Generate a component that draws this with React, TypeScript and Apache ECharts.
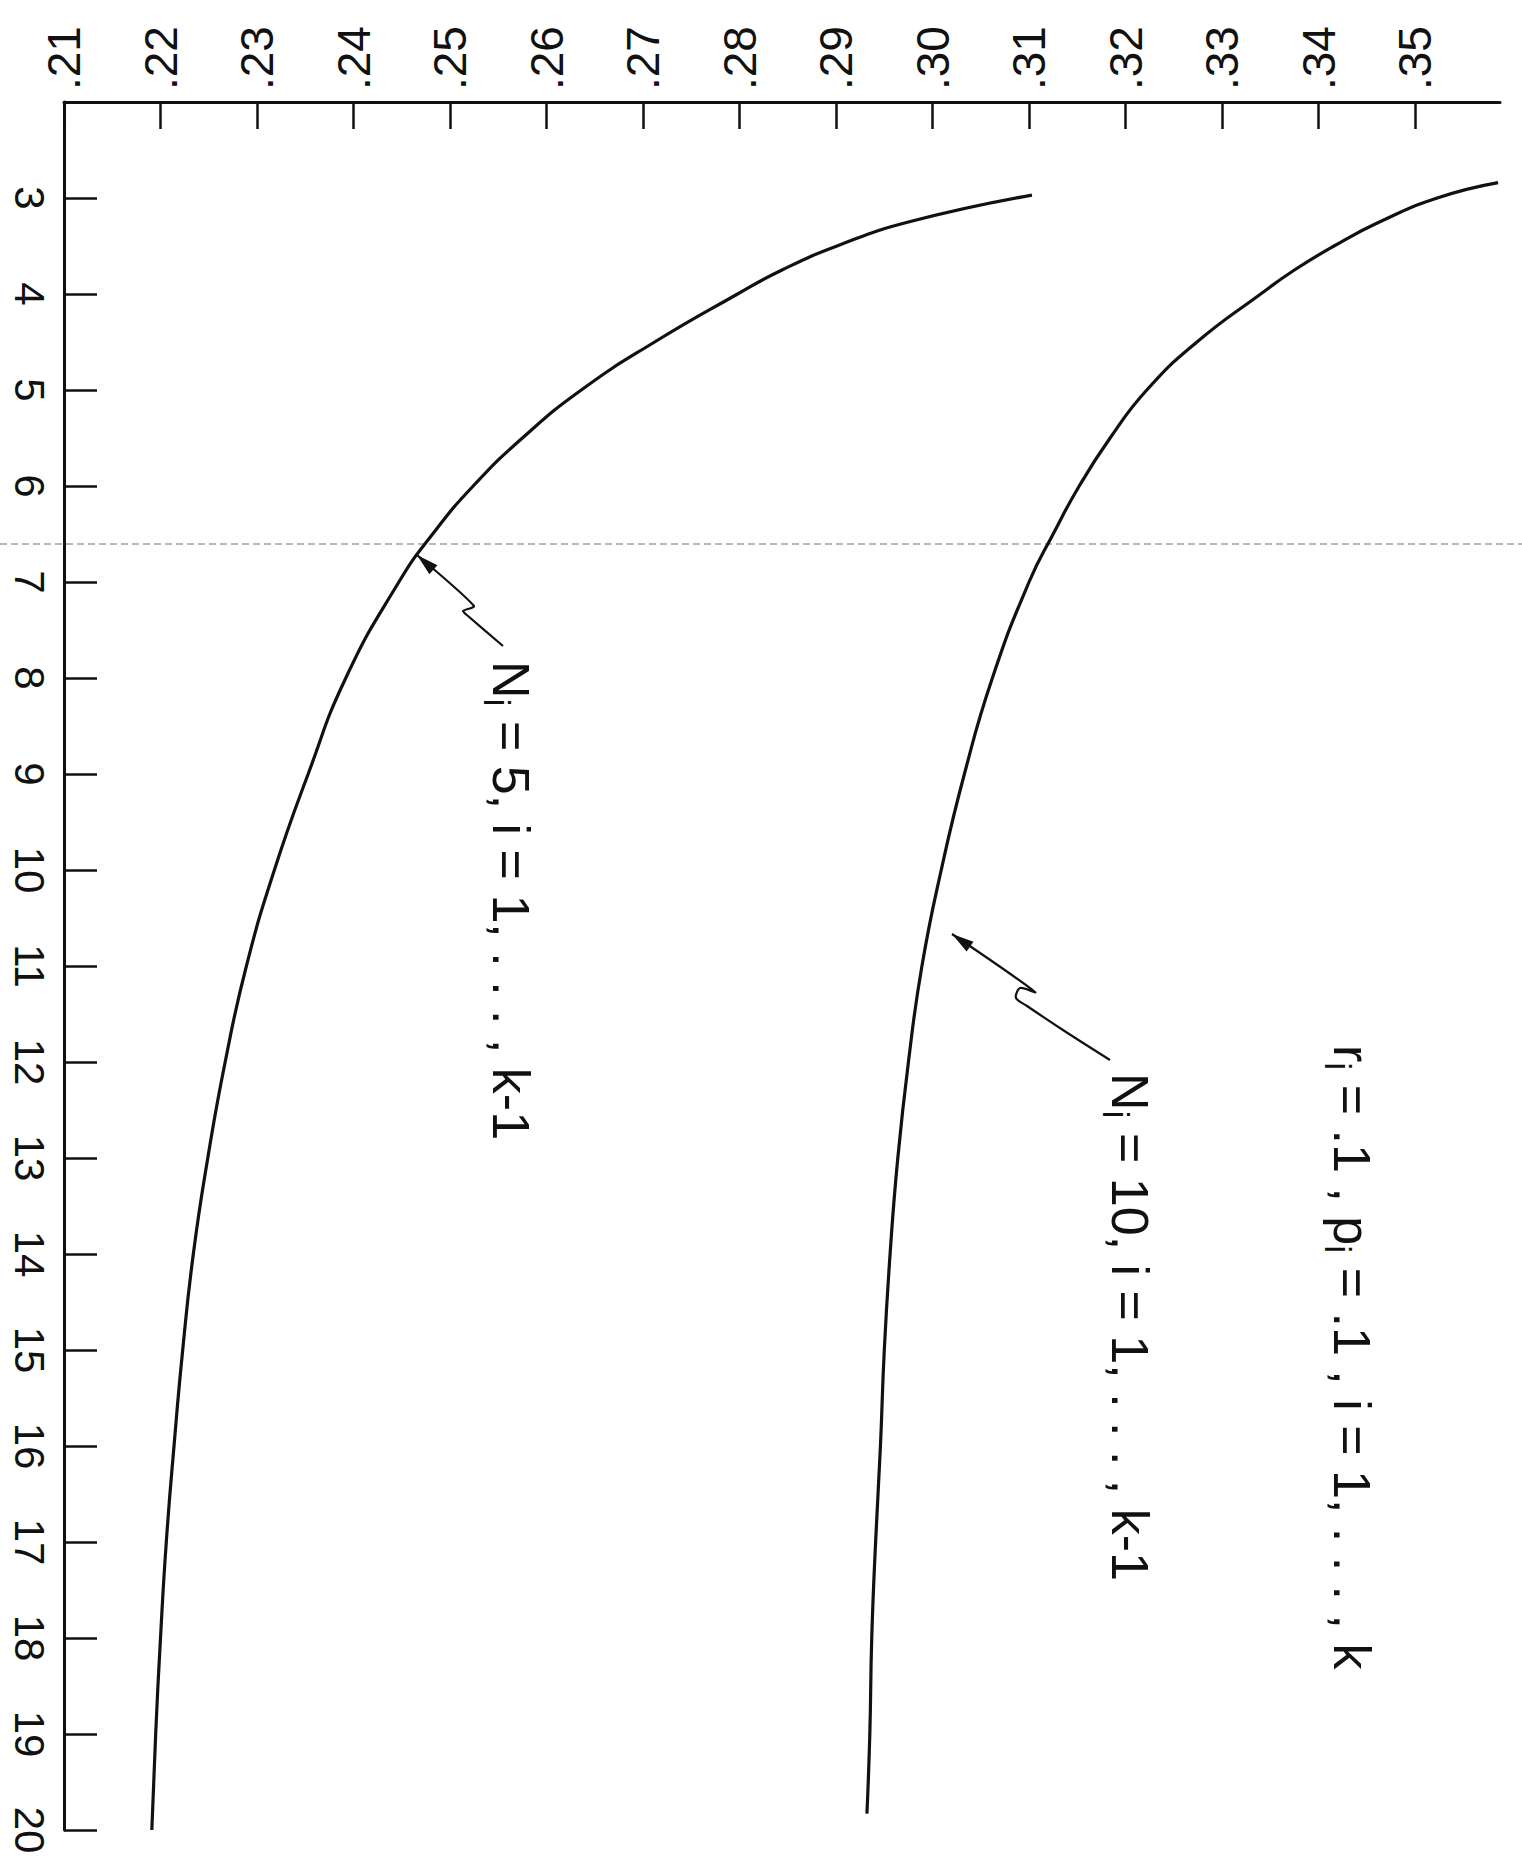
import React, { useEffect, useRef } from "react";
import * as echarts from "echarts";

// Horizontal (top) axis tick labels: .21 ... .35
const X_TICKS = [0.21, 0.22, 0.23, 0.24, 0.25, 0.26, 0.27, 0.28, 0.29, 0.3, 0.31, 0.32, 0.33, 0.34, 0.35];
// Vertical (left) axis tick labels: k = 3 ... 20
const K_TICKS = [3, 4, 5, 6, 7, 8, 9, 10, 11, 12, 13, 14, 15, 16, 17, 18, 19, 20];

// Curve N_i = 5
const K_N5 = [2.97, 3.25, 3.5, 3.75, 4, 4.5, 5, 5.5, 6, 6.5, 7, 8, 9, 10, 11, 12, 13, 14, 15, 16, 17, 18, 19, 20];
const V_N5 = [0.3103, 0.2975, 0.2901, 0.2844, 0.2798, 0.2712, 0.2636, 0.2575, 0.2524, 0.2482, 0.2447, 0.2392, 0.2353, 0.2318, 0.2289, 0.2267, 0.2249, 0.2234, 0.2223, 0.2214, 0.2206, 0.22, 0.2195, 0.2191];

// Curve N_i = 10
const K_N10 = [2.84, 3, 3.25, 3.5, 3.75, 4, 4.5, 5, 5.5, 6, 6.5, 7, 8, 9, 10, 11, 12, 13, 14, 15, 16, 17, 18, 19, 19.83];
const V_N10 = [0.3586, 0.3523, 0.3463, 0.3416, 0.3375, 0.334, 0.3274, 0.3222, 0.3184, 0.3152, 0.3125, 0.31, 0.3062, 0.3033, 0.3009, 0.2989, 0.2975, 0.2964, 0.2956, 0.295, 0.2946, 0.2941, 0.2937, 0.2935, 0.2932];

const LABEL_N5 = "{n|N}{s|i}{n| = 5, i = 1, . . . , k-1}";
const LABEL_N10 = "{n|N}{s|i}{n| = 10, i = 1, . . . , k-1}";
const LABEL_PARAMS = "{n|r}{s|i}{n| = .1 , p}{s|i}{n| = .1 , i = 1, . . . , k}";

const INK = "#111";
const FONT = "'Liberation Sans', Arial, sans-serif";

function arrowHead(tip: number[], from: number[], len: number, half: number) {
  const dx = tip[0] - from[0];
  const dy = tip[1] - from[1];
  const d = Math.hypot(dx, dy);
  const ux = dx / d;
  const uy = dy / d;
  const bx = tip[0] - ux * len;
  const by = tip[1] - uy * len;
  return [
    [tip[0], tip[1]],
    [bx - uy * half, by + ux * half],
    [bx + uy * half, by - ux * half],
  ];
}

function rotatedLabel(text: string, x: number, y: number) {
  return {
    type: "text",
    x,
    y,
    rotation: -Math.PI / 2,
    z: 10,
    style: {
      text,
      align: "left",
      verticalAlign: "middle",
      fill: INK,
      fontFamily: FONT,
      fontSize: 52,
      rich: {
        n: { fontSize: 52, fontFamily: FONT, color: INK, lineHeight: 66 },
        s: { fontSize: 36, fontFamily: FONT, color: INK, lineHeight: 34, verticalAlign: "bottom" },
      },
    },
  };
}

export default function App() {
  const ref = useRef<HTMLDivElement>(null);

  useEffect(() => {
    document.body.style.margin = "0";
    const chart = echarts.init(ref.current!, null, { renderer: "svg" });

    const leader1 = [[503, 646], [468, 616], [463, 611], [474, 606], [417, 555]];
    const leader2 = [[1110, 1060], [1066, 1032], [1027, 1006], [1016, 998], [1020, 988], [1035, 992], [952, 934]];

    const option: any = {
      animation: false,
      backgroundColor: "#fff",
      grid: { left: 64, right: 22, top: 102, bottom: 35 },
      xAxis: {
        type: "value",
        position: "top",
        min: 0.21,
        max: 0.3588,
        axisLine: { show: true, onZero: false, lineStyle: { color: INK, width: 3 } },
        axisTick: {
          show: true,
          inside: true,
          length: 27,
          customValues: X_TICKS,
          lineStyle: { color: INK, width: 2.5 },
        },
        axisLabel: {
          show: true,
          customValues: X_TICKS,
          rotate: -90,
          margin: 12,
          color: INK,
          fontFamily: FONT,
          fontSize: 46,
          formatter: (v: number) => v.toFixed(2).replace(/^0/, ""),
        },
        splitLine: { show: false },
      },
      yAxis: {
        type: "value",
        inverse: true,
        min: 2,
        max: 20,
        position: "left",
        axisLine: { show: true, onZero: false, lineStyle: { color: INK, width: 3 } },
        axisTick: {
          show: true,
          inside: true,
          length: 33,
          customValues: K_TICKS,
          lineStyle: { color: INK, width: 2.5 },
        },
        axisLabel: {
          show: true,
          customValues: K_TICKS,
          rotate: -90,
          margin: 14,
          color: INK,
          fontFamily: FONT,
          fontSize: 42,
          formatter: (v: number) => String(v),
        },
        splitLine: { show: false },
      },
      series: [
        {
          name: "N_i = 5",
          type: "line",
          data: K_N5.map((k, i) => [V_N5[i], k]),
          showSymbol: false,
          symbol: "none",
          smooth: 0.5,
          lineStyle: { color: INK, width: 3.2 },
        },
        {
          name: "N_i = 10",
          type: "line",
          data: K_N10.map((k, i) => [V_N10[i], k]),
          showSymbol: false,
          symbol: "none",
          smooth: 0.5,
          lineStyle: { color: INK, width: 3.2 },
        },
      ],
      graphic: [
        {
          type: "line",
          z: 1,
          shape: { x1: 0, y1: 544, x2: 1522, y2: 544 },
          style: { stroke: "#444", lineWidth: 1, lineDash: [7, 4], opacity: 0.75 },
        },
        rotatedLabel(LABEL_N5, 511, 661),
        rotatedLabel(LABEL_N10, 1130, 1073),
        rotatedLabel(LABEL_PARAMS, 1352, 1045),
        {
          type: "polyline",
          z: 10,
          shape: { points: leader1, smooth: 0.2 },
          style: { stroke: INK, lineWidth: 2.2, fill: null },
        },
        {
          type: "polygon",
          z: 10,
          shape: { points: arrowHead(leader1[4], leader1[3], 22, 6) },
          style: { fill: INK },
        },
        {
          type: "polyline",
          z: 10,
          shape: { points: leader2, smooth: 0.3 },
          style: { stroke: INK, lineWidth: 2.2, fill: null },
        },
        {
          type: "polygon",
          z: 10,
          shape: { points: arrowHead(leader2[6], leader2[5], 22, 6) },
          style: { fill: INK },
        },
      ],
    };

    chart.setOption(option);
    return () => chart.dispose();
  }, []);

  return <div ref={ref} style={{ width: 1522, height: 1865, background: "#fff" }} />;
}
